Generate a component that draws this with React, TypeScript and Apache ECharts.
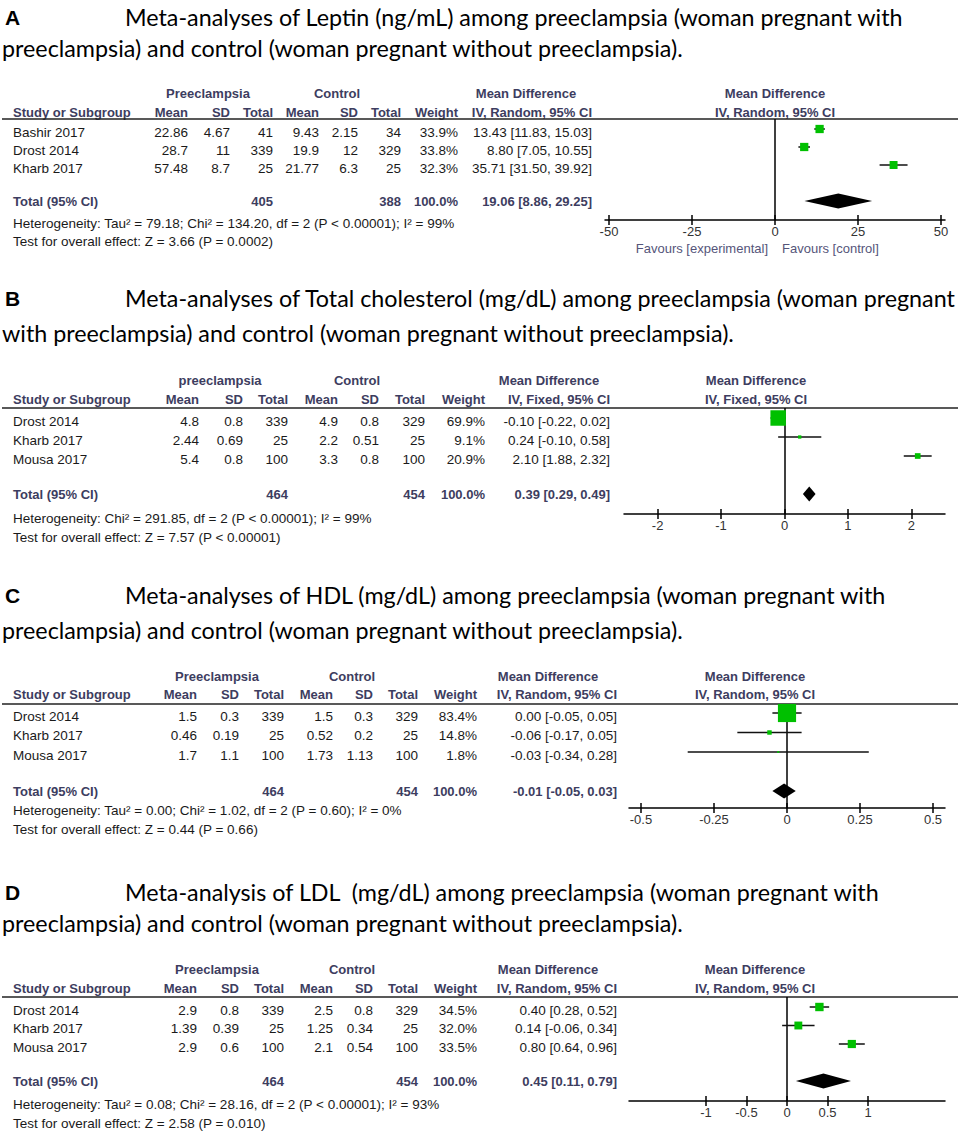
import React, { useEffect, useRef } from "react";
import * as echarts from "echarts";

// ---------- DATA ----------
// Panel A: Leptin
const A_studies = ["Bashir 2017", "Drost 2014", "Kharb 2017"];
const A_peMean = [22.86, 28.7, 57.48];
const A_peSD = [4.67, 11, 8.7];
const A_peN = [41, 339, 25];
const A_ctMean = [9.43, 19.9, 21.77];
const A_ctSD = [2.15, 12, 6.3];
const A_ctN = [34, 329, 25];
const A_weight = [33.9, 33.8, 32.3];
const A_md = [13.43, 8.8, 35.71];
const A_lo = [11.83, 7.05, 31.5];
const A_hi = [15.03, 10.55, 39.92];
const A_totalN = [405, 388];
const A_totalMD = [19.06, 8.86, 29.25];
const A_ticks = [-50, -25, 0, 25, 50];
const A_het = "Heterogeneity: Tau² = 79.18; Chi² = 134.20, df = 2 (P < 0.00001); I² = 99%";
const A_test = "Test for overall effect: Z = 3.66 (P = 0.0002)";

// Panel B: Total cholesterol
const B_studies = ["Drost 2014", "Kharb 2017", "Mousa 2017"];
const B_peMean = [4.8, 2.44, 5.4];
const B_peSD = [0.8, 0.69, 0.8];
const B_peN = [339, 25, 100];
const B_ctMean = [4.9, 2.2, 3.3];
const B_ctSD = [0.8, 0.51, 0.8];
const B_ctN = [329, 25, 100];
const B_weight = [69.9, 9.1, 20.9];
const B_md = [-0.1, 0.24, 2.1];
const B_lo = [-0.22, -0.1, 1.88];
const B_hi = [0.02, 0.58, 2.32];
const B_totalN = [464, 454];
const B_totalMD = [0.39, 0.29, 0.49];
const B_ticks = [-2, -1, 0, 1, 2];
const B_het = "Heterogeneity: Chi² = 291.85, df = 2 (P < 0.00001); I² = 99%";
const B_test = "Test for overall effect: Z = 7.57 (P < 0.00001)";

// Panel C: HDL
const C_studies = ["Drost 2014", "Kharb 2017", "Mousa 2017"];
const C_peMean = [1.5, 0.46, 1.7];
const C_peSD = [0.3, 0.19, 1.1];
const C_peN = [339, 25, 100];
const C_ctMean = [1.5, 0.52, 1.73];
const C_ctSD = [0.3, 0.2, 1.13];
const C_ctN = [329, 25, 100];
const C_weight = [83.4, 14.8, 1.8];
const C_md = [0.0, -0.06, -0.03];
const C_lo = [-0.05, -0.17, -0.34];
const C_hi = [0.05, 0.05, 0.28];
const C_totalN = [464, 454];
const C_totalMD = [-0.01, -0.05, 0.03];
const C_ticks = [-0.5, -0.25, 0, 0.25, 0.5];
const C_het = "Heterogeneity: Tau² = 0.00; Chi² = 1.02, df = 2 (P = 0.60); I² = 0%";
const C_test = "Test for overall effect: Z = 0.44 (P = 0.66)";

// Panel D: LDL
const D_studies = ["Drost 2014", "Kharb 2017", "Mousa 2017"];
const D_peMean = [2.9, 1.39, 2.9];
const D_peSD = [0.8, 0.39, 0.6];
const D_peN = [339, 25, 100];
const D_ctMean = [2.5, 1.25, 2.1];
const D_ctSD = [0.8, 0.34, 0.54];
const D_ctN = [329, 25, 100];
const D_weight = [34.5, 32.0, 33.5];
const D_md = [0.4, 0.14, 0.8];
const D_lo = [0.28, -0.06, 0.64];
const D_hi = [0.52, 0.34, 0.96];
const D_totalN = [464, 454];
const D_totalMD = [0.45, 0.11, 0.79];
const D_ticks = [-1, -0.5, 0, 0.5, 1];
const D_het = "Heterogeneity: Tau² = 0.08; Chi² = 28.16, df = 2 (P < 0.00001); I² = 93%";
const D_test = "Test for overall effect: Z = 2.58 (P = 0.010)";

// ---------- LAYOUT / STYLE ----------
const TABLE_FONT = "'Liberation Sans', Arial, sans-serif";
const TITLE_FONT = "Lato, 'Open Sans', sans-serif";
const TITLE_SIZE = 23.3;
const HEAD_COLOR = "#3d3d60";
const TEXT_COLOR = "#1a1a1a";
const GREEN = "#00c000";

const panels = [
  {
    letter: "A",
    title1: "Meta-analyses of Leptin (ng/mL) among preeclampsia (woman pregnant with",
    title2: "preeclampsia) and control (woman pregnant without preeclampsia).",
    group: "Preeclampsia",
    method: "IV, Random, 95% CI",
    studies: A_studies, peMean: A_peMean, peSD: A_peSD, peN: A_peN,
    ctMean: A_ctMean, ctSD: A_ctSD, ctN: A_ctN, weight: A_weight,
    md: A_md, lo: A_lo, hi: A_hi, totalN: A_totalN, totalMD: A_totalMD,
    ticks: A_ticks, het: A_het, test: A_test, favours: true,
    L: {
      titleY: [17, 48], groupY: 93, headY: 112, lineY: 119, row0: 129, pitch: 18,
      axisY: 220, hetY: 223, testY: 241,
      cols: [188, 230, 273, 319, 358, 401, 458, 592], groupCenters: [208, 337],
      mdCenter: 526, plotCenter: 775, plotLeft: 605, plotRight: 945, half: 51.2,
    },
  },
  {
    letter: "B",
    title1: "Meta-analyses of Total cholesterol (mg/dL) among preeclampsia (woman pregnant",
    title2: "with preeclampsia) and control (woman pregnant without preeclampsia).",
    group: "preeclampsia",
    method: "IV, Fixed, 95% CI",
    studies: B_studies, peMean: B_peMean, peSD: B_peSD, peN: B_peN,
    ctMean: B_ctMean, ctSD: B_ctSD, ctN: B_ctN, weight: B_weight,
    md: B_md, lo: B_lo, hi: B_hi, totalN: B_totalN, totalMD: B_totalMD,
    ticks: B_ticks, het: B_het, test: B_test, favours: false,
    L: {
      titleY: [298, 333], groupY: 380, headY: 399, lineY: 408, row0: 418, pitch: 19,
      axisY: 514, hetY: 518, testY: 537,
      cols: [199, 243, 288, 338, 379, 425, 485, 610], groupCenters: [220, 357],
      mdCenter: 549, plotCenter: 756, plotLeft: 624, plotRight: 945, half: 2.53,
    },
  },
  {
    letter: "C",
    title1: "Meta-analyses of HDL (mg/dL) among preeclampsia (woman pregnant with",
    title2: "preeclampsia) and control (woman pregnant without preeclampsia).",
    group: "Preeclampsia",
    method: "IV, Random, 95% CI",
    studies: C_studies, peMean: C_peMean, peSD: C_peSD, peN: C_peN,
    ctMean: C_ctMean, ctSD: C_ctSD, ctN: C_ctN, weight: C_weight,
    md: C_md, lo: C_lo, hi: C_hi, totalN: C_totalN, totalMD: C_totalMD,
    ticks: C_ticks, het: C_het, test: C_test, favours: false,
    L: {
      titleY: [595, 630], groupY: 676, headY: 694, lineY: 704, row0: 713, pitch: 19.5,
      axisY: 808, hetY: 810, testY: 829,
      cols: [197, 239, 284, 333, 373, 418, 477, 617], groupCenters: [217, 352],
      mdCenter: 548, plotCenter: 755, plotLeft: 629, plotRight: 945, half: 0.541,
    },
  },
  {
    letter: "D",
    title1: "Meta-analysis of LDL  (mg/dL) among preeclampsia (woman pregnant with",
    title2: "preeclampsia) and control (woman pregnant without preeclampsia).",
    group: "Preeclampsia",
    method: "IV, Random, 95% CI",
    studies: D_studies, peMean: D_peMean, peSD: D_peSD, peN: D_peN,
    ctMean: D_ctMean, ctSD: D_ctSD, ctN: D_ctN, weight: D_weight,
    md: D_md, lo: D_lo, hi: D_hi, totalN: D_totalN, totalMD: D_totalMD,
    ticks: D_ticks, het: D_het, test: D_test, favours: false,
    L: {
      titleY: [892, 923], groupY: 969, headY: 988, lineY: 997, row0: 1007, pitch: 18.5,
      axisY: 1101, hetY: 1104, testY: 1123,
      cols: [197, 239, 284, 333, 373, 418, 477, 617], groupCenters: [217, 352],
      mdCenter: 548, plotCenter: 755, plotLeft: 629, plotRight: 945, half: 1.95,
    },
  },
];

const TOTAL_ROW = 4;

function txt(x: number, y: number, text: string, o: any = {}) {
  return {
    type: "text",
    x,
    y,
    silent: true,
    style: {
      text,
      fill: o.fill || TEXT_COLOR,
      fontSize: o.size || 13.5,
      fontFamily: o.family || TABLE_FONT,
      fontWeight: o.bold ? "bold" : "normal",
      align: o.align || "left",
      verticalAlign: "middle",
    },
  };
}

const ciText = (m: number, l: number, h: number) =>
  `${m.toFixed(2)} [${l.toFixed(2)}, ${h.toFixed(2)}]`;

function buildOption() {
  const graphic: any[] = [];
  const grid: any[] = [];
  const xAxis: any[] = [];
  const yAxis: any[] = [];
  const series: any[] = [];
  const n = panels.length;

  // main grids first (indices 0..n-1), tick-overlay grids after (n..2n-1)
  panels.forEach((p) => {
    const L = p.L;
    grid.push({ left: L.plotLeft, width: L.plotRight - L.plotLeft, top: L.lineY, height: L.axisY - L.lineY });
  });
  panels.forEach((p) => {
    const L = p.L;
    grid.push({ left: L.plotLeft, width: L.plotRight - L.plotLeft, top: L.lineY, height: L.axisY - L.lineY });
  });

  panels.forEach((p, pi) => {
    const L = p.L;
    xAxis.push({
      type: "value",
      gridIndex: pi,
      min: -L.half,
      max: L.half,
      position: "bottom",
      splitLine: { show: false },
      axisLine: { show: true, onZero: false, lineStyle: { color: "#000", width: 1.5 } },
      axisTick: { show: true, customValues: p.ticks, length: 5, lineStyle: { color: "#000", width: 1.5 } },
      axisLabel: {
        show: true,
        customValues: p.ticks,
        color: "#333",
        fontSize: 13,
        fontFamily: TABLE_FONT,
        margin: 5,
      },
    });
    yAxis.push({
      type: "value",
      gridIndex: pi,
      inverse: true,
      min: (L.lineY - L.row0) / L.pitch,
      max: (L.axisY - L.row0) / L.pitch,
      show: false,
    });
  });
  panels.forEach((p, pi) => {
    const L = p.L;
    xAxis.push({
      type: "value",
      gridIndex: n + pi,
      min: -L.half,
      max: L.half,
      position: "bottom",
      splitLine: { show: false },
      axisLine: { show: false, onZero: false },
      axisTick: { show: true, inside: true, customValues: p.ticks, length: 5, lineStyle: { color: "#000", width: 1.5 } },
      axisLabel: { show: false },
    });
    yAxis.push({ type: "value", gridIndex: n + pi, min: 0, max: 1, show: false });
  });

  panels.forEach((p, pi) => {
    const L = p.L;
    // Titles
    graphic.push(txt(5, L.titleY[0], p.letter, { bold: true, size: 21, fill: "#000" }));
    graphic.push(txt(125, L.titleY[0], p.title1, { family: TITLE_FONT, size: TITLE_SIZE, fill: "#000" }));
    graphic.push(txt(2, L.titleY[1], p.title2, { family: TITLE_FONT, size: TITLE_SIZE, fill: "#000" }));

    // Header row 1
    const hb = { bold: true, size: 13, fill: HEAD_COLOR, align: "center" };
    graphic.push(txt(L.groupCenters[0], L.groupY, p.group, hb));
    graphic.push(txt(L.groupCenters[1], L.groupY, "Control", hb));
    graphic.push(txt(L.mdCenter, L.groupY, "Mean Difference", hb));
    graphic.push(txt(L.plotCenter, L.groupY, "Mean Difference", hb));
    // Header row 2
    graphic.push(txt(13, L.headY, "Study or Subgroup", { bold: true, size: 13, fill: HEAD_COLOR }));
    const heads = ["Mean", "SD", "Total", "Mean", "SD", "Total", "Weight", p.method];
    heads.forEach((h, i) =>
      graphic.push(txt(L.cols[i], L.headY, h, { bold: true, size: 13, fill: HEAD_COLOR, align: "right" }))
    );
    graphic.push(txt(L.plotCenter, L.headY, p.method, hb));
    // Header underline
    graphic.push({
      type: "line",
      silent: true,
      shape: { x1: 2, y1: L.lineY, x2: 958, y2: L.lineY },
      style: { stroke: "#222", lineWidth: 1.5 },
    });

    // Study rows
    p.studies.forEach((s, i) => {
      const y = L.row0 + 3 + i * L.pitch;
      graphic.push(txt(13, y, s));
      const vals = [
        String(p.peMean[i]), String(p.peSD[i]), String(p.peN[i]),
        String(p.ctMean[i]), String(p.ctSD[i]), String(p.ctN[i]),
        p.weight[i].toFixed(1) + "%", ciText(p.md[i], p.lo[i], p.hi[i]),
      ];
      vals.forEach((v, c) => graphic.push(txt(L.cols[c], y, v, { align: "right" })));
    });

    // Total row
    const ty = L.row0 + TOTAL_ROW * L.pitch;
    const tb = { bold: true, size: 13, fill: HEAD_COLOR, align: "right" };
    graphic.push(txt(13, ty, "Total (95% CI)", { bold: true, size: 13, fill: HEAD_COLOR }));
    graphic.push(txt(L.cols[2], ty, String(p.totalN[0]), tb));
    graphic.push(txt(L.cols[5], ty, String(p.totalN[1]), tb));
    graphic.push(txt(L.cols[6], ty, (100).toFixed(1) + "%", tb));
    graphic.push(txt(L.cols[7], ty, ciText(p.totalMD[0], p.totalMD[1], p.totalMD[2]), tb));

    graphic.push(txt(13, L.hetY, p.het));
    graphic.push(txt(13, L.testY, p.test));

    if (p.favours) {
      graphic.push(txt(768, L.axisY + 28, "Favours [experimental]", { fill: "#55557a", size: 13, align: "right" }));
      graphic.push(txt(782, L.axisY + 28, "Favours [control]", { fill: "#55557a", size: 13 }));
    }

    const studyData = p.studies.map((_, i) => [p.md[i], p.lo[i], p.hi[i], i, p.weight[i]]);
    series.push({
      type: "custom",
      xAxisIndex: pi,
      yAxisIndex: pi,
      z: 3,
      clip: false,
      silent: true,
      data: studyData,
      encode: { x: [0, 1, 2], y: 3 },
      renderItem: (_params: any, api: any) => {
        const est = api.value(0);
        const lo = api.value(1);
        const hi = api.value(2);
        const y = api.value(3);
        const w = api.value(4);
        const pl = api.coord([lo, y]);
        const ph = api.coord([hi, y]);
        const pc = api.coord([est, y]);
        const s = 1.5 + 0.2 * w;
        return {
          type: "group",
          children: [
            {
              type: "line",
              shape: { x1: pl[0], y1: pl[1], x2: ph[0], y2: ph[1] },
              style: { stroke: "#111", lineWidth: 1.5 },
            },
            {
              type: "rect",
              shape: { x: pc[0] - s / 2, y: pc[1] - s / 2, width: s, height: s },
              style: { fill: GREEN },
            },
          ],
        };
      },
      markLine: {
        silent: true,
        symbol: "none",
        z: 1,
        label: { show: false },
        lineStyle: { color: "#000", width: 1.5, type: "solid" },
        data: [{ xAxis: 0 }],
      },
    });
    series.push({
      type: "custom",
      xAxisIndex: pi,
      yAxisIndex: pi,
      z: 3,
      clip: false,
      silent: true,
      data: [[p.totalMD[0], p.totalMD[1], p.totalMD[2], TOTAL_ROW]],
      encode: { x: [0, 1, 2], y: 3 },
      renderItem: (_params: any, api: any) => {
        const est = api.value(0);
        const lo = api.value(1);
        const hi = api.value(2);
        const y = api.value(3);
        const pl = api.coord([lo, y]);
        const ph = api.coord([hi, y]);
        const pc = api.coord([est, y]);
        const h = 7.5;
        return {
          type: "polygon",
          shape: {
            points: [
              [pl[0], pl[1]],
              [pc[0], pc[1] - h],
              [ph[0], ph[1]],
              [pc[0], pc[1] + h],
            ],
          },
          style: { fill: "#000" },
        };
      },
    });
  });

  return {
    animation: false,
    backgroundColor: "#fff",
    grid,
    xAxis,
    yAxis,
    series,
    graphic: { elements: graphic },
  };
}

export default function App() {
  const ref = useRef<HTMLDivElement>(null);
  useEffect(() => {
    if (!ref.current) return;
    const chart = echarts.init(ref.current, null, { renderer: "svg" });
    chart.setOption(buildOption());
    return () => chart.dispose();
  }, []);
  return (
    <div
      ref={ref}
      style={{ position: "absolute", left: 0, top: 0, width: 962, height: 1133, background: "#fff" }}
    />
  );
}
